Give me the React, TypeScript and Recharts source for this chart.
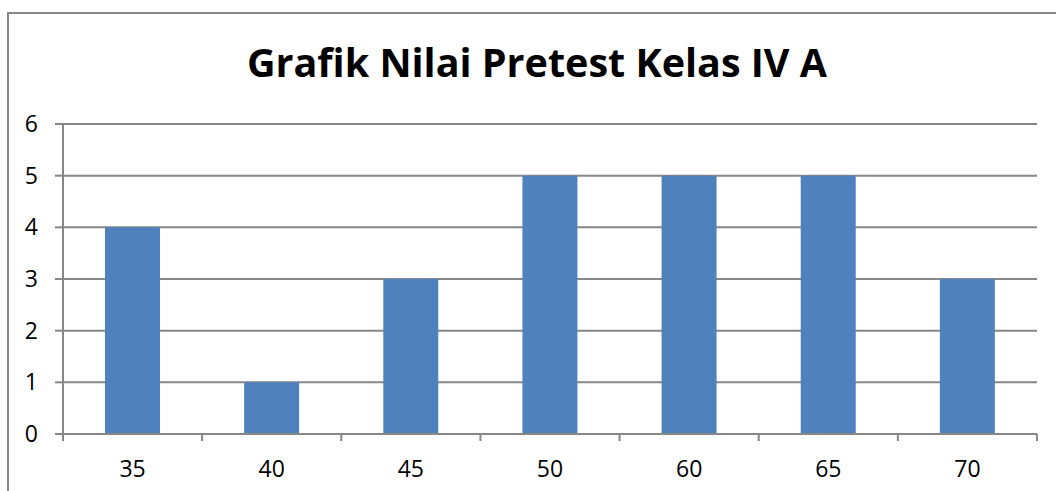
import React from "react";
import { BarChart, Bar, XAxis, YAxis, CartesianGrid } from "recharts";

const categories = ["35", "40", "45", "50", "60", "65", "70"];
const counts = [4, 1, 3, 5, 5, 5, 3];
const yTicks = [0, 1, 2, 3, 4, 5, 6];
const title = "Grafik Nilai Pretest Kelas IV A";

const data = categories.map((c, i) => ({ name: c, value: counts[i] }));

const W = 1056;
const H = 491;
const MARGIN = { top: 124, right: 19, left: 0, bottom: 0 };
const Y_W = 63;
const X_H = 57;
const PLOT_W = W - MARGIN.left - MARGIN.right - Y_W;
const BAND = PLOT_W / categories.length;
const GRAY = "#878787";
const FONT = "'Open Sans', sans-serif";

const XTick = (props: any) => {
  const { x, y, index } = props;
  const left = x - BAND / 2;
  const right = x + BAND / 2;
  const last = index === categories.length - 1;
  return (
    <g>
      <line x1={left} x2={left} y1={y} y2={y + 7} stroke={GRAY} strokeWidth={2} />
      {last && <line x1={right} x2={right} y1={y} y2={y + 7} stroke={GRAY} strokeWidth={2} />}
      <text x={x} y={y + 43} textAnchor="middle" fontSize={23} fill="#000" fontFamily={FONT}>
        {props.payload.value}
      </text>
    </g>
  );
};

export default function App() {
  return (
    <div style={{ position: "absolute", left: 0, top: 0, width: W, height: H, background: "#fff", overflow: "hidden" }}>
      <div
        style={{
          position: "absolute",
          left: 7,
          top: 12,
          width: W + 20,
          height: H + 20,
          border: `2px solid ${GRAY}`,
          boxSizing: "border-box",
        }}
      />
      <div style={{ position: "absolute", left: 0, top: 0 }}>
        <BarChart width={W} height={H} data={data} margin={MARGIN} barSize={55}>
          <text x={537} y={77} textAnchor="middle" fontSize={39.5} fontWeight="bold" fontFamily={FONT} fill="#000">
            {title}
          </text>
          <CartesianGrid vertical={false} stroke={GRAY} strokeWidth={2} />
          <XAxis
            dataKey="name"
            height={X_H}
            axisLine={{ stroke: GRAY, strokeWidth: 2 }}
            tickLine={false}
            tickSize={0}
            tickMargin={0}
            tick={<XTick />}
            interval={0}
          />
          <YAxis
            width={Y_W}
            domain={[0, 6]}
            ticks={yTicks}
            interval={0}
            axisLine={{ stroke: GRAY, strokeWidth: 2 }}
            tickLine={{ stroke: GRAY, strokeWidth: 2 }}
            tickSize={8}
            tickMargin={17}
            tick={{ fontSize: 23, fill: "#000", fontFamily: FONT }}
          />
          <Bar dataKey="value" fill="#4F81BD" isAnimationActive={false} />
        </BarChart>
      </div>
    </div>
  );
}
